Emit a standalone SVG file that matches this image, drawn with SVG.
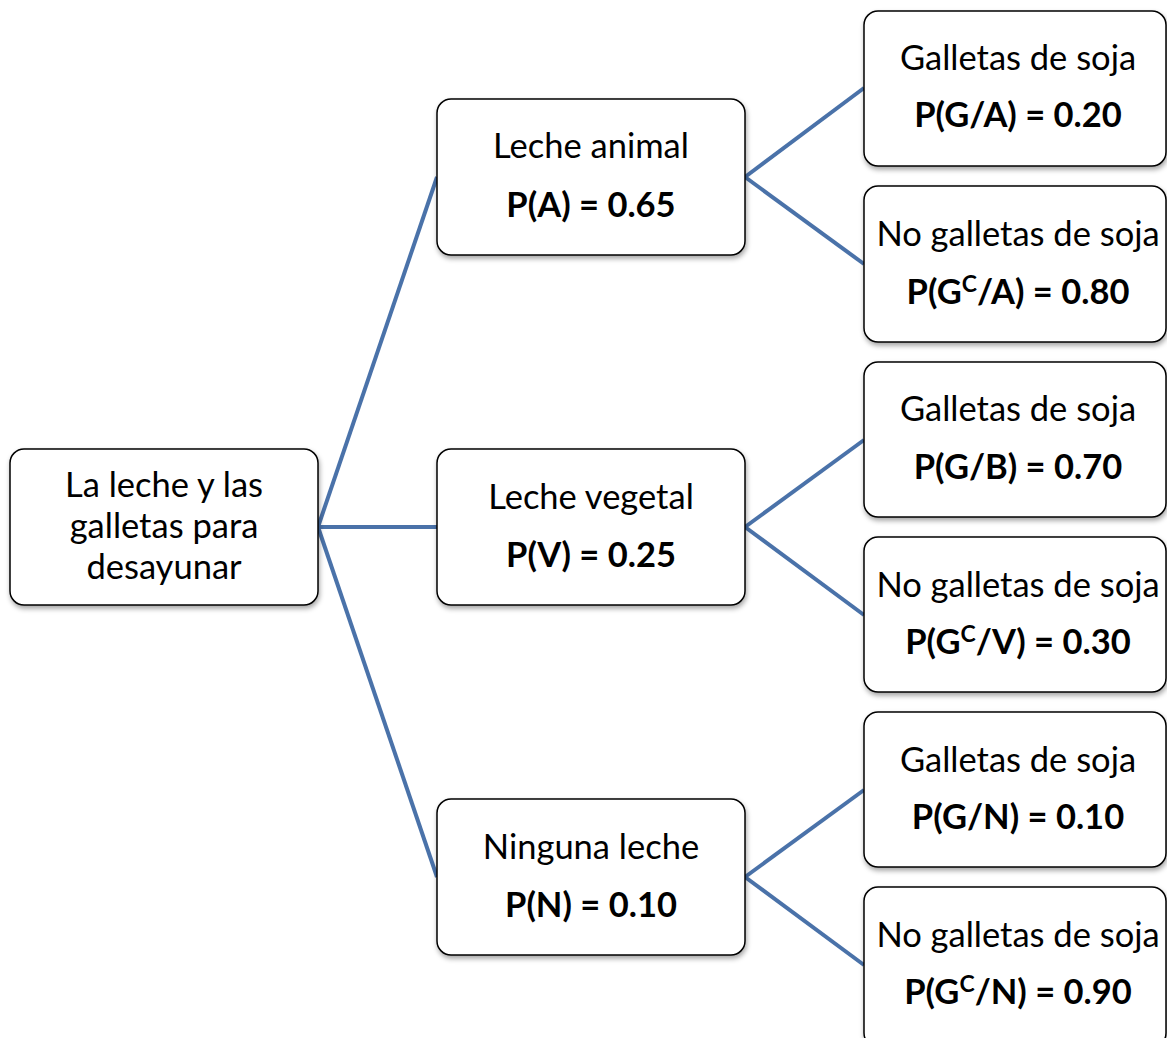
<svg xmlns="http://www.w3.org/2000/svg" width="1167" height="1038" viewBox="0 0 1167 1038">
<defs>
<filter id="sh" x="-10%" y="-10%" width="130%" height="130%">
<feDropShadow dx="1" dy="3" stdDeviation="2.5" flood-color="#000" flood-opacity="0.35"/>
</filter>
<style>
.box{fill:#fff;stroke:#000;stroke-width:1.5;filter:url(#sh)}
.t{font-family:Lato,"Open Sans","Liberation Sans",sans-serif;font-size:34.5px;fill:#000;text-anchor:middle}
.b{font-weight:bold}
.sup{font-size:23px}
.edge{stroke:#4a72a9;stroke-width:4;fill:none}
</style>
</defs>
<rect width="1167" height="1038" fill="#fff"/>
<g id="connectors">
<line class="edge" x1="318" y1="527" x2="437" y2="177"/>
<line class="edge" x1="318" y1="527" x2="437" y2="527"/>
<line class="edge" x1="318" y1="527" x2="437" y2="877"/>
<line class="edge" x1="745" y1="177" x2="864" y2="88"/>
<line class="edge" x1="745" y1="177" x2="864" y2="264"/>
<line class="edge" x1="745" y1="527" x2="864" y2="440"/>
<line class="edge" x1="745" y1="527" x2="864" y2="615"/>
<line class="edge" x1="745" y1="877" x2="864" y2="790"/>
<line class="edge" x1="745" y1="877" x2="864" y2="965"/>
</g>
<g id="root">
<rect class="box" x="10" y="449" width="308" height="156" rx="14"/>
<text class="t" x="164" y="497">La leche y las</text>
<text class="t" x="164" y="538">galletas para</text>
<text class="t" x="164" y="579">desayunar</text>
</g>
<g id="nodeA">
<rect class="box" x="437" y="99" width="308" height="156" rx="14"/>
<text class="t" x="591" y="158">Leche animal</text>
<text class="t b" x="591" y="217">P(A) = 0.65</text>
</g>
<g id="nodeV">
<rect class="box" x="437" y="449" width="308" height="156" rx="14"/>
<text class="t" x="591" y="509">Leche vegetal</text>
<text class="t b" x="591" y="567">P(V) = 0.25</text>
</g>
<g id="nodeN">
<rect class="box" x="437" y="799" width="308" height="156" rx="14"/>
<text class="t" x="591" y="859">Ninguna leche</text>
<text class="t b" x="591" y="917">P(N) = 0.10</text>
</g>
<g id="leafGA">
<rect class="box" x="864" y="11" width="302" height="155" rx="14"/>
<text class="t" x="1018" y="70">Galletas de soja</text>
<text class="t b" x="1018" y="127">P(G/A) = 0.20</text>
</g>
<g id="leafGcA">
<rect class="box" x="864" y="186" width="302" height="156" rx="14"/>
<text class="t" x="1018" y="246">No galletas de soja</text>
<text class="t b" x="1018" y="304">P(G<tspan class="sup" dy="-12">C</tspan><tspan dy="12">/A) = 0.80</tspan></text>
</g>
<g id="leafGB">
<rect class="box" x="864" y="362" width="302" height="155" rx="14"/>
<text class="t" x="1018" y="421">Galletas de soja</text>
<text class="t b" x="1018" y="479">P(G/B) = 0.70</text>
</g>
<g id="leafGcV">
<rect class="box" x="864" y="537" width="302" height="155" rx="14"/>
<text class="t" x="1018" y="597">No galletas de soja</text>
<text class="t b" x="1018" y="654">P(G<tspan class="sup" dy="-12">C</tspan><tspan dy="12">/V) = 0.30</tspan></text>
</g>
<g id="leafGN">
<rect class="box" x="864" y="712" width="302" height="155" rx="14"/>
<text class="t" x="1018" y="772">Galletas de soja</text>
<text class="t b" x="1018" y="829">P(G/N) = 0.10</text>
</g>
<g id="leafGcN">
<rect class="box" x="864" y="887" width="302" height="160" rx="14"/>
<text class="t" x="1018" y="947">No galletas de soja</text>
<text class="t b" x="1018" y="1004">P(G<tspan class="sup" dy="-12">C</tspan><tspan dy="12">/N) = 0.90</tspan></text>
</g>
</svg>
